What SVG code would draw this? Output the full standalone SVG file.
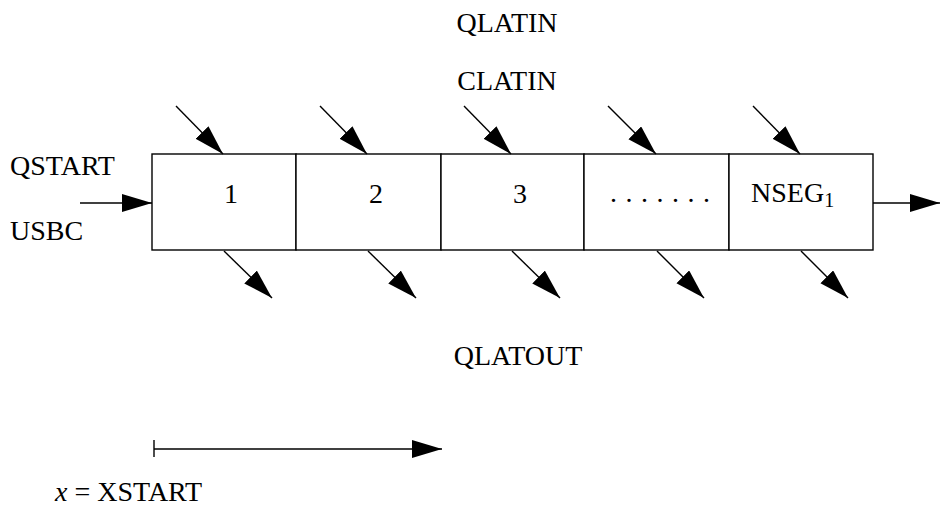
<svg xmlns="http://www.w3.org/2000/svg" width="940" height="509" viewBox="0 0 940 509">
<style>
text{font-family:"Liberation Serif","Times New Roman",serif;font-size:28px;fill:#000}
.box{fill:#fff;stroke:#000;stroke-width:1.4}
.ln{stroke:#000;stroke-width:1.4;fill:none}
</style>
<defs>
<marker id="ah" markerUnits="userSpaceOnUse" markerWidth="32" markerHeight="20" refX="30" refY="9" orient="auto">
<path d="M0,0 L30,9 L0,18 z" fill="#000"/>
</marker>
</defs>
<rect width="940" height="509" fill="#fff"/>
<g id="seg1"><rect class="box" x="152" y="154" width="144" height="96"/><text x="231" y="203" text-anchor="middle">1</text></g>
<g id="seg2"><rect class="box" x="296" y="154" width="145" height="96"/><text x="376" y="203" text-anchor="middle">2</text></g>
<g id="seg3"><rect class="box" x="441" y="154" width="143" height="96"/><text x="520" y="203" text-anchor="middle">3</text></g>
<g id="seg4"><rect class="box" x="584" y="154" width="145" height="96"/><text x="610 625.5 641 656.5 672 687.5 703" y="202">.......</text></g>
<g id="seg5"><rect class="box" x="729" y="154" width="144" height="96"/><text x="751" y="202">NSEG<tspan font-size="20" dy="5">1</tspan></text></g>
<g id="connectors">
<line class="ln" x1="80" y1="203" x2="152" y2="203" marker-end="url(#ah)"/>
<line class="ln" x1="873" y1="203" x2="940" y2="203" marker-end="url(#ah)"/>
<line class="ln" x1="176" y1="106" x2="223" y2="154" marker-end="url(#ah)"/>
<line class="ln" x1="320" y1="106" x2="367" y2="154" marker-end="url(#ah)"/>
<line class="ln" x1="464" y1="106" x2="511" y2="154" marker-end="url(#ah)"/>
<line class="ln" x1="608" y1="106" x2="656" y2="154" marker-end="url(#ah)"/>
<line class="ln" x1="753" y1="106" x2="800" y2="154" marker-end="url(#ah)"/>
<line class="ln" x1="224" y1="251" x2="272" y2="298" marker-end="url(#ah)"/>
<line class="ln" x1="368" y1="251" x2="416" y2="298" marker-end="url(#ah)"/>
<line class="ln" x1="512" y1="251" x2="560" y2="298" marker-end="url(#ah)"/>
<line class="ln" x1="657" y1="251" x2="704" y2="298" marker-end="url(#ah)"/>
<line class="ln" x1="801" y1="251" x2="848" y2="298" marker-end="url(#ah)"/>
<line class="ln" x1="154" y1="449" x2="442" y2="449" marker-end="url(#ah)"/>
<line class="ln" x1="154" y1="440" x2="154" y2="457"/>
</g>
<text x="507" y="32" text-anchor="middle">QLATIN</text>
<text x="507" y="90" text-anchor="middle">CLATIN</text>
<text x="518" y="365" text-anchor="middle">QLATOUT</text>
<text x="10" y="175">QSTART</text>
<text x="10" y="240">USBC</text>
<text x="55" y="501"><tspan font-style="italic">x</tspan> = XSTART</text>
</svg>
